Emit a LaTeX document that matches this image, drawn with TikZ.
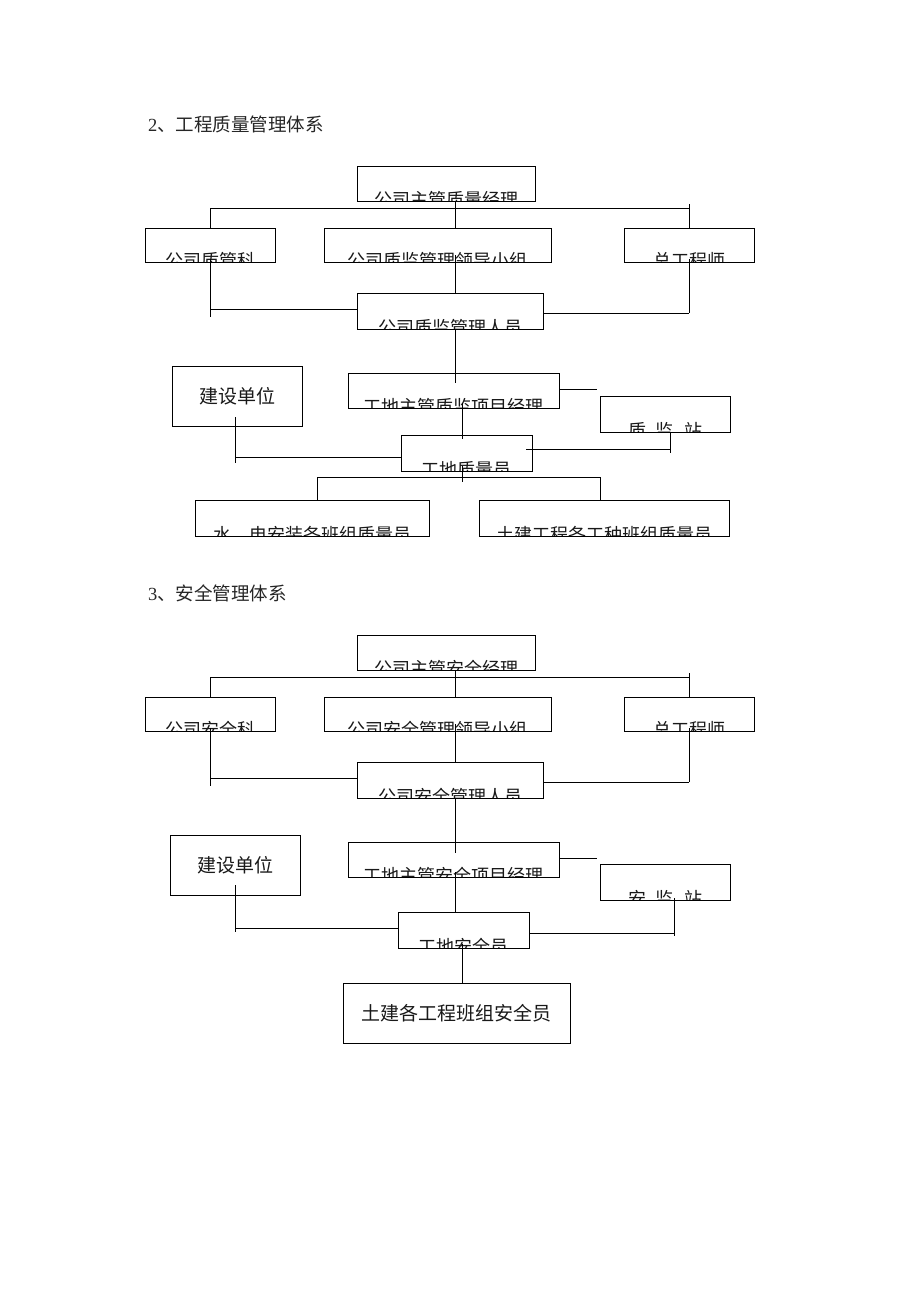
\documentclass[tikz,border=0pt]{standalone}
\usepackage{fontspec}
\setmainfont{Liberation Serif}
\newfontfamily\cjk{Noto Sans CJK SC}
\usetikzlibrary{calc}
\tikzset{
  box/.style={draw, line width=0.9pt, fill=white, inner sep=0pt, outer sep=0pt, anchor=north west},
  lbl/.style={anchor=base, inner sep=0pt, font=\cjk\fontsize{18}{18}\selectfont, text=black!90},
  biglbl/.style={font=\cjk\fontsize{19}{19}\selectfont, text=black!90},
  ttl/.style={anchor=base west, inner sep=0pt, font=\cjk\fontsize{18.5}{19}\selectfont, text=black!85},
  conn/.style={line width=0.9pt},
}
% clipped box: name, x, y, w, h, text
\newcommand\clipbox[6]{%
  \node[box, minimum width=#4pt, minimum height=#5pt] (#1) at (#2,#3) {};
  \begin{scope}
    \clip (#1.south west) rectangle (#1.north east);
    \node[lbl] at ($(#1.south)+(0,5.5)$) {#6};
  \end{scope}
  \draw[line width=0.9pt] (#1.south west) rectangle (#1.north east);
}
\begin{document}
\begin{tikzpicture}[x=1pt, y=-1pt]
\useasboundingbox[fill=white] (0,0) rectangle (920,1302);

% ================= Quality =================
\node[ttl] (t1) at (148,131) {{\rmfamily 2}、工程质量管理体系};

\clipbox{q1}{357}{166}{178}{35}{公司主管质量经理}
\clipbox{qa}{145}{228}{130}{34}{公司质管科}
\clipbox{qb}{324}{228}{227}{34}{公司质监管理领导小组}
\clipbox{qc}{624}{228}{130}{34}{总工程师}
\clipbox{q4}{357}{293}{186}{36}{公司质监管理人员}
\node[box, biglbl, minimum width=130pt, minimum height=60pt] (qj) at (172,366) {建设单位};
\clipbox{q5}{348}{373}{211}{35}{工地主管质监项目经理}
\clipbox{qz}{600}{396}{130}{36}{质\hspace{10pt}监\hspace{10pt}站}
\clipbox{q6}{401}{435}{131}{36}{工地质量员}
\clipbox{b1}{195}{500}{234}{36}{水、电安装各班组质量员}
\clipbox{b2}{479}{500}{250}{36}{土建工程各工种班组质量员}

\coordinate (qbus) at (455,208);
\draw[conn] (qa.north) -- (qa.north |- qbus) -- (qc.north |- qbus);
\draw[conn] (qc.north) -- ++(0,-24);
\draw[conn] (q1.south -| qbus) -- (qb.north -| qbus);
\coordinate (qL) at (210,259);
\draw[conn] (qL) -- ++(0,58);
\draw[conn] ([yshift=2pt]q4.west) -- ([yshift=2pt]q4.west -| qL);
\coordinate (qR) at (689,259);
\draw[conn] (qR) -- ++(0,54);
\draw[conn] ([yshift=-2pt]q4.east) -- ([yshift=-2pt]q4.east -| qR);
\coordinate (qM) at (455,255);
\draw[conn] (qM) -- (q4.north -| qM);
\coordinate (qM2) at (455,383);
\draw[conn] (q4.south -| qM2) -- (qM2);
\coordinate (qM3) at (462,403);
\draw[conn] (qM3) -- ($(q6.north -| qM3)+(0,4)$);
\coordinate (qS) at (597,389);
\draw[conn] (q5.east |- qS) -- (qS);
\coordinate (qZ) at (670,453);
\draw[conn] (qz.south -| qZ) -- (qZ);
\coordinate (qZ2) at (526,449);
\draw[conn] (qZ2) -- (qZ2 -| qZ);
\coordinate (qJ) at (235,417);
\draw[conn] (qJ) -- ++(0,46);
\coordinate (qJ2) at (235,457);
\draw[conn] (qJ2) -- (qJ2 -| q6.west);
\coordinate (qB) at (462,466);
\coordinate (qB2) at (462,482);
\draw[conn] (qB) -- (qB2);
\coordinate (qb1) at (317,477);
\coordinate (qb2) at (600,477);
\draw[conn] (qb1 |- b1.north) -- (qb1) -- (qb2) -- (qb2 |- b2.north);

% ================= Safety =================
\node[ttl] (t2) at (148,600) {{\rmfamily 3}、安全管理体系};

\clipbox{s1}{357}{635}{178}{35}{公司主管安全经理}
\clipbox{sa}{145}{697}{130}{34}{公司安全科}
\clipbox{sb}{324}{697}{227}{34}{公司安全管理领导小组}
\clipbox{sc}{624}{697}{130}{34}{总工程师}
\clipbox{s4}{357}{762}{186}{36}{公司安全管理人员}
\node[box, biglbl, minimum width=130pt, minimum height=60pt] (sj) at (170,835) {建设单位};
\clipbox{s5}{348}{842}{211}{35}{工地主管安全项目经理}
\clipbox{sz}{600}{864}{130}{36}{安\hspace{10pt}监\hspace{10pt}站}
\clipbox{s6}{398}{912}{131}{36}{工地安全员}
\node[box, biglbl, minimum width=227pt, minimum height=60pt] (s7) at (343,983) {土建各工程班组安全员};

\coordinate (sbus) at (455,677);
\draw[conn] (sa.north) -- (sa.north |- sbus) -- (sc.north |- sbus);
\draw[conn] (sc.north) -- ++(0,-24);
\draw[conn] (s1.south -| sbus) -- (sb.north -| sbus);
\coordinate (sL) at (210,728);
\draw[conn] (sL) -- ++(0,58);
\draw[conn] ([yshift=2pt]s4.west) -- ([yshift=2pt]s4.west -| sL);
\coordinate (sR) at (689,728);
\draw[conn] (sR) -- ++(0,54);
\draw[conn] ([yshift=-2pt]s4.east) -- ([yshift=-2pt]s4.east -| sR);
\coordinate (sM) at (455,724);
\draw[conn] (sM) -- (s4.north -| sM);
\coordinate (sM2) at (455,853);
\draw[conn] (s4.south -| sM2) -- (sM2);
\coordinate (sM3) at (455,872);
\draw[conn] (sM3) -- (s6.north -| sM3);
\coordinate (sS) at (597,858);
\draw[conn] (s5.east |- sS) -- (sS);
\coordinate (sZ) at (674,936);
\draw[conn] ($(sz.south -| sZ)+(0,-2)$) -- (sZ);
\coordinate (sZ2) at (529,933);
\draw[conn] (sZ2) -- (sZ2 -| sZ);
\coordinate (sJ) at (235,885);
\draw[conn] (sJ) -- ++(0,47);
\coordinate (sJ2) at (235,928);
\draw[conn] (sJ2) -- (sJ2 -| s6.west);
\coordinate (sB) at (462,944);
\draw[conn] (sB) -- (s7.north -| sB);
\end{tikzpicture}
\end{document}
